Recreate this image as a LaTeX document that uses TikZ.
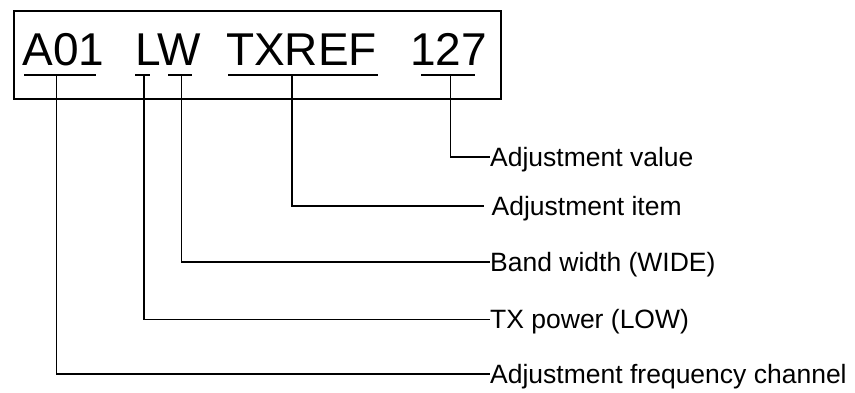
\documentclass[tikz,border=0pt]{standalone}
\usepackage{fontspec}
\setmainfont{Liberation Sans}
\begin{document}
\begin{tikzpicture}[x=1pt,y=-1pt,
  word/.style={anchor=base west,inner sep=0pt,font=\fontsize{46}{50}\selectfont},
  lbl/.style={anchor=west,inner sep=0pt,text height=18.5pt,text depth=0pt,font=\fontsize{26.5}{30}\selectfont},
  uline/.style={line width=2.3pt},
  conn/.style={line width=1.4pt},
  frame/.style={line width=1.5pt}]
\useasboundingbox (0,0) rectangle (855,392);
\node[draw,frame,inner sep=0pt,minimum width=487pt,minimum height=88pt,anchor=north west] (box) at (13,10) {};
% words
\node[word] (wa) at (22.5,65) {A01};
\node[word] (wl) at (135,65) {LW};
\node[word] (wt) at (226,65) {TXREF};
\node[word] (wn) at (410,65) {127};
% underlines
\draw[uline] (24,75) -- (96,75);
\draw[uline] (135,75) -- (150,75);
\draw[uline] (168,75) -- (192,75);
\draw[uline] (228,75) -- (378,75);
\draw[uline] (421,75) -- (475,75);
\coordinate (ca) at (56.7,75);
\coordinate (cl) at (144,75);
\coordinate (cw) at (181.7,75);
\coordinate (ct) at (292,75);
\coordinate (cn) at (450.7,75);
% labels
\node[lbl] (lv) at (490,157) {Adjustment value};
\node[lbl] (li) at (491.5,206) {Adjustment item};
\node[lbl] (lb) at (490,262) {Band width (WIDE)};
\node[lbl] (lt) at (490,319.5) {TX power (LOW)};
\node[lbl] (lf) at (490,374) {Adjustment frequency channel};
% connectors
\draw[conn] (cn) |- (lv.west);
\draw[conn,shorten >=8pt] (ct) |- (li.west);
\draw[conn] (cw) |- (lb.west);
\draw[conn] (cl) |- (lt.west);
\draw[conn] (ca) |- (lf.west);
\end{tikzpicture}
\end{document}
